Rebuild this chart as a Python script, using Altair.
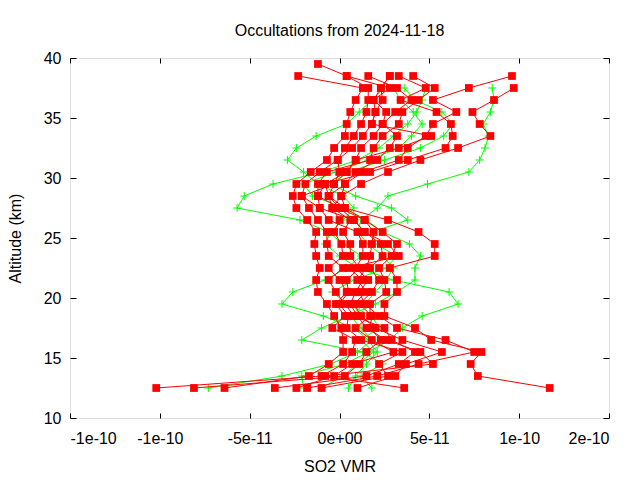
import altair as alt
import pandas as pd

# ---------------- data (SO2 VMR in units of 1e-11) ----------------
SCALE = 1e-11
ALTS = [12.5, 13.5, 14.5, 15.5, 16.5, 17.5, 18.5, 19.5, 20.5, 21.5, 22.5, 23.5, 24.5,
        25.5, 26.5, 27.5, 28.5, 29.5, 30.5, 31.5, 32.5, 33.5, 34.5, 35.5, 36.5, 37.5,
        38.5, 39.5]

# red profiles: one row per altitude level, one column per profile R0..R9
RED_ROWS = [
    [-10.2, -8.1, -6.4, 11.7, -3.6, -2.4, -1.8, -1.0, 1.0, 3.6],
    [-1.0, 0.3, -1.7, 7.7, 1.5, -0.3, 2.1, 2.7, 3.1, -0.8],
    [0.2, 1.1, -0.6, 7.3, 3.3, 0.7, 4.4, 2.2, 3.7, 5.2],
    [0.7, 1.5, 0.2, 7.9, 4.2, 3.0, 7.5, 3.5, 5.7, 4.5],
    [0.9, 2.3, 0.2, 5.1, 2.9, 1.8, 5.9, 1.2, 3.5, 2.6],
    [-0.4, 1.7, 0.1, 4.2, 2.5, 0.9, 3.2, 0.4, 2.0, 1.5],
    [0.3, 1.8, -0.3, 2.5, 0.8, 1.7, 2.2, 0.5, 1.2, 1.0],
    [-0.2, 1.1, -0.7, 2.5, 0.3, 1.7, 1.4, 0.0, 0.8, 0.6],
    [0.4, 1.8, -1.2, 3.2, -0.2, 2.6, 1.1, 0.5, 1.5, 0.9],
    [0.0, 2.2, -1.3, 3.2, -0.6, 2.5, 1.6, 0.4, 1.0, 1.3],
    [-0.6, 1.7, -1.1, 2.8, 0.2, 2.2, 0.9, 1.1, 1.5, 0.5],
    [0.2, 2.4, -1.3, 5.3, -0.6, 2.9, 1.3, 0.6, 1.7, 3.3],
    [0.1, 2.3, -1.4, 5.3, -0.7, 3.2, 1.3, 0.6, 1.8, 2.7],
    [-0.3, 1.4, -1.3, 4.4, -0.7, 2.4, 1.0, 0.2, 1.9, 1.4],
    [0.0, 0.8, -1.8, 2.7, -1.2, 1.4, -0.6, 0.6, 1.4, 0.8],
    [-0.4, 0.0, -2.4, 0.3, -1.7, 0.0, -1.1, -0.4, 0.3, -1.1],
    [-0.6, -1.2, -2.6, 0.1, -2.1, -0.6, -1.2, 0.1, -0.6, -2.1],
    [-0.3, -0.8, -2.4, 1.2, -1.9, 0.3, -1.2, 0.3, -0.8, -0.3],
    [0.0, 0.4, -1.6, 2.7, -1.1, 1.3, -0.7, 0.9, 1.7, 0.4],
    [-0.1, 0.9, -0.7, 4.5, -0.1, 3.3, 1.7, 2.1, 3.8, 0.9],
    [0.3, 1.2, -0.3, 6.6, 0.7, 3.8, 1.9, 2.8, 5.9, 3.3],
    [0.8, 1.9, 0.3, 8.4, 1.3, 4.8, 2.4, 3.2, 6.3, 5.1],
    [1.2, 2.4, 0.4, 7.8, 1.8, 5.2, 3.3, 2.4, 6.2, 1.8],
    [1.5, 3.1, 0.6, 7.4, 2.0, 6.5, 3.5, 2.6, 5.4, 2.0],
    [1.6, 4.0, 0.9, 8.6, 2.4, 5.2, 4.4, 1.9, 3.4, 1.9],
    [1.6, 3.2, 1.3, 9.7, 2.3, 7.2, 5.3, 2.8, 4.8, 2.3],
    [0.4, 1.6, -2.3, None, 2.8, 9.6, 4.1, 0.4, 3.3, 2.8],
    [-1.2, None, None, None, None, None, None, None, None, None],
]

# green profiles: one row per altitude level, one column per profile G0..G4
GREEN_ROWS = [
    [-7.3, -2.0, 0.5, 1.8, -1.0],
    [-3.2, -2.1, 0.9, 1.2, 0.2],
    [-0.5, 0.3, 1.5, 2.4, 1.0],
    [1.0, 1.6, 2.1, 1.3, 1.9],
    [1.8, 2.8, 1.6, -2.1, 1.2],
    [1.2, 3.5, 0.8, -1.0, 2.2],
    [0.6, 4.6, -0.9, 0.5, 1.8],
    [1.4, 6.6, -3.2, 2.0, 0.4],
    [2.0, 6.1, -2.6, 3.2, -0.4],
    [2.6, 3.0, -0.8, 4.2, 0.8],
    [3.0, 1.0, 0.4, 4.2, 2.6],
    [2.4, 0.0, 1.2, 4.5, 3.2],
    [1.6, -0.8, 0.2, 3.9, 2.0],
    [1.0, -0.5, -0.6, 2.4, 1.8],
    [1.2, 0.2, -2.2, 1.5, 3.8],
    [2.1, 0.8, -5.7, 0.3, 2.9],
    [2.7, 0.2, -5.3, -1.5, 0.9],
    [4.9, -1.2, -3.7, -2.0, -0.5],
    [7.2, -2.0, -1.0, -0.2, 0.5],
    [7.8, -2.9, 1.0, 1.6, 2.5],
    [8.1, -2.4, 2.2, 3.3, 4.5],
    [8.3, -1.3, 3.0, 4.0, 5.8],
    [8.0, 0.4, 3.8, 4.6, 6.3],
    [8.4, 1.1, 4.3, 4.1, 5.7],
    [8.6, 1.8, 4.6, 3.4, 4.2],
    [8.5, 2.5, 4.8, 3.0, 3.6],
    [None, None, None, None, None],
    [None, None, None, None, None],
]

X_TICKS = [-1.5e-10, -1e-10, -5e-11, 0.0, 5e-11, 1e-10, 1.5e-10]
X_LABELS = ["-1e-10", "-1e-10", "-5e-11", "0e+00", "5e-11", "1e-10", "2e-10"]
Y_TICKS = [10, 15, 20, 25, 30, 35, 40]


def to_long(rows, prefix):
    recs = []
    for alt_km, row in zip(ALTS, rows):
        for j, v in enumerate(row):
            if v is not None:
                recs.append({"profile": f"{prefix}{j}", "alt": alt_km, "vmr": v * SCALE})
    return pd.DataFrame(recs)


red = to_long(RED_ROWS, "R")
green = to_long(GREEN_ROWS, "G")

label_expr = f"'{X_LABELS[-1]}'"
for v, l in reversed(list(zip(X_TICKS[:-1], X_LABELS[:-1]))):
    label_expr = f"abs(datum.value - ({v!r})) < 1e-12 ? '{l}' : ({label_expr})"

FONT = "Liberation Sans"
xscale = alt.Scale(domain=[-1.5e-10, 1.5e-10], nice=False, zero=False)
yscale = alt.Scale(domain=[10, 40], nice=False, zero=False)

common_axis = dict(grid=False, domain=False, tickColor="black", labelColor="black",
                   labelFont=FONT, labelFontSize=16, tickWidth=1, minExtent=0)

x_bottom = alt.Axis(orient="bottom", values=X_TICKS, labelExpr=label_expr, offset=-5,
                    tickSize=5, labelPadding=12, title="SO2 VMR", titleFont=FONT,
                    titleFontSize=16, titleFontWeight="normal", titleColor="black",
                    titleX=269.5, titleY=53, titleBaseline="middle", titleAlign="center",
                    **common_axis)
y_left = alt.Axis(orient="left", values=Y_TICKS, offset=-6, tickSize=6, labelPadding=9,
                  title="Altitude (km)", titleFont=FONT, titleFontSize=16,
                  titleFontWeight="normal", titleColor="black", titleAngle=270,
                  titleX=-61, titleY=180, titleBaseline="middle", titleAlign="center",
                  **common_axis)
x_top = alt.Axis(orient="top", values=X_TICKS, offset=-5, tickSize=5, labels=False,
                 **common_axis)
y_right = alt.Axis(orient="right", values=Y_TICKS, offset=-6, tickSize=6, labels=False,
                   **common_axis)

plus_path = "M-1,0L1,0M0,-1L0,1"

green_line = alt.Chart(green).mark_line(color="#00ff00", strokeWidth=1).encode(
    x=alt.X("vmr:Q", scale=xscale, axis=x_top, title=None),
    y=alt.Y("alt:Q", scale=yscale, axis=y_right, title=None),
    detail="profile:N",
    order="alt:Q",
)
green_pts = alt.Chart(green).mark_point(shape=plus_path, filled=False, stroke="#00ff00",
                                        strokeWidth=1, size=64, opacity=1).encode(
    x=alt.X("vmr:Q", scale=xscale, axis=None),
    y=alt.Y("alt:Q", scale=yscale, axis=None),
)
red_line = alt.Chart(red).mark_line(color="#ff0000", strokeWidth=1).encode(
    x=alt.X("vmr:Q", scale=xscale, axis=x_bottom),
    y=alt.Y("alt:Q", scale=yscale, axis=y_left),
    detail="profile:N",
    order="alt:Q",
)
red_pts = alt.Chart(red).mark_square(color="#ff0000", size=60, opacity=1,
                                     strokeWidth=0).encode(
    x=alt.X("vmr:Q", scale=xscale, axis=None),
    y=alt.Y("alt:Q", scale=yscale, axis=None),
)

chart = alt.layer(green_line, green_pts, red_line, red_pts).resolve_axis(
    x="independent", y="independent"
).properties(
    width=539,
    height=360,
    title=alt.TitleParams("Occultations from 2024-11-18", font=FONT, fontSize=16,
                          fontWeight="normal", color="black", anchor="middle",
                          baseline="alphabetic", offset=24, dy=26),
    autosize=alt.AutoSizeParams(type="none"),
    padding={"left": 62, "top": 50, "right": 22, "bottom": 62},
).configure_view(stroke="black", strokeWidth=1).configure(background="white")

chart.save("out.html", embed_options={"renderer": "svg", "actions": False})
